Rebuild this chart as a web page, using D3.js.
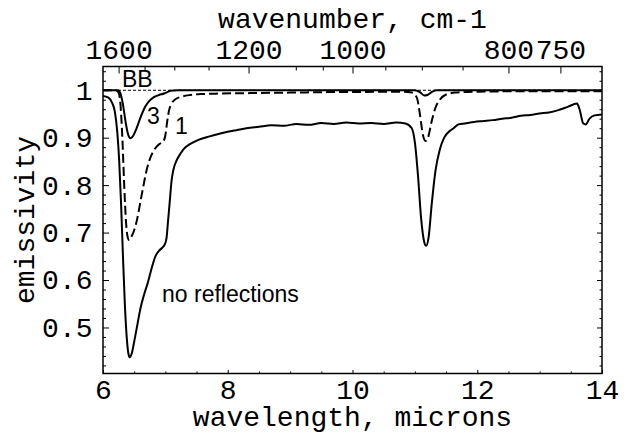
<!DOCTYPE html>
<html>
<head>
<meta charset="utf-8">
<script src="https://cdn.jsdelivr.net/npm/d3@7"></script>
<style>
  body { margin: 0; background: white; }
  .tick text { font-family: "Liberation Mono", monospace; font-size: 28px; fill: black; }
  .title { font-family: "Liberation Mono", monospace; font-size: 28px; fill: black; }
  .note { font-family: "Liberation Sans", Arial, sans-serif; font-size: 23px; fill: black; }
</style>
</head>
<body>
<svg id="chart" width="628" height="434"></svg>
<script>
// emissivity (wavelength in microns)
var noReflLambda = [6.00, 6.08, 6.14, 6.19, 6.23, 6.26, 6.29, 6.32, 6.35, 6.38, 6.41, 6.43, 6.46, 6.50, 6.55, 6.60, 6.66, 6.72, 6.78, 6.84, 6.90, 6.95, 6.99, 7.02, 7.04, 7.07, 7.10, 7.13, 7.18, 7.24, 7.30, 7.40, 7.52, 7.66, 7.80, 7.95, 8.10, 8.30, 8.50, 8.70, 8.90, 9.10, 9.30, 9.50, 9.70, 9.90, 10.10, 10.30, 10.50, 10.70, 10.85, 10.95, 11.00, 11.05, 11.10, 11.15, 11.18, 11.22, 11.27, 11.33, 11.40, 11.47, 11.55, 11.62, 11.70, 11.80, 11.95, 12.10, 12.25, 12.40, 12.55, 12.70, 12.85, 13.00, 13.15, 13.30, 13.45, 13.60, 13.64, 13.70, 13.74, 13.80, 13.88, 14.00]
var noReflValues = [0.988, 0.985, 0.975, 0.955, 0.91, 0.85, 0.76, 0.65, 0.55, 0.48, 0.443, 0.437, 0.445, 0.47, 0.505, 0.54, 0.57, 0.595, 0.625, 0.65, 0.662, 0.668, 0.675, 0.69, 0.72, 0.765, 0.81, 0.833, 0.852, 0.866, 0.877, 0.887, 0.895, 0.901, 0.906, 0.911, 0.915, 0.92, 0.923, 0.926, 0.925, 0.929, 0.927, 0.931, 0.929, 0.932, 0.93, 0.931, 0.929, 0.932, 0.93, 0.92, 0.89, 0.82, 0.73, 0.68, 0.672, 0.69, 0.76, 0.83, 0.875, 0.9, 0.913, 0.92, 0.928, 0.93, 0.933, 0.935, 0.937, 0.94, 0.942, 0.946, 0.948, 0.951, 0.953, 0.958, 0.965, 0.972, 0.96, 0.93, 0.928, 0.94, 0.947, 0.949]

var oneReflLambda = [6.00, 6.20, 6.25, 6.28, 6.31, 6.34, 6.37, 6.40, 6.42, 6.45, 6.50, 6.55, 6.60, 6.65, 6.70, 6.76, 6.83, 6.90, 6.97, 7.00, 7.03, 7.06, 7.10, 7.16, 7.25, 7.40, 7.60, 7.90, 8.40, 9.00, 9.60, 10.20, 10.80, 10.95, 11.03, 11.08, 11.13, 11.17, 11.21, 11.27, 11.33, 11.40, 11.50, 11.65, 12.00, 13.00, 14.00]
var oneReflValues = [1.0, 1.0, 0.995, 0.97, 0.90, 0.80, 0.72, 0.688, 0.684, 0.69, 0.705, 0.73, 0.765, 0.80, 0.832, 0.858, 0.876, 0.886, 0.893, 0.905, 0.935, 0.958, 0.972, 0.981, 0.986, 0.99, 0.992, 0.993, 0.994, 0.995, 0.996, 0.9965, 0.997, 0.995, 0.985, 0.95, 0.905, 0.893, 0.9, 0.935, 0.963, 0.98, 0.991, 0.995, 0.997, 0.998, 0.998]

var threeReflLambda = [6.00, 6.24, 6.28, 6.32, 6.36, 6.40, 6.44, 6.48, 6.53, 6.58, 6.63, 6.68, 6.74, 6.81, 6.90, 6.98, 7.03, 7.08, 7.20, 11.00, 11.08, 11.15, 11.20, 11.28, 11.35, 14.00]
var threeReflValues = [1.0, 1.0, 0.993, 0.97, 0.935, 0.908, 0.899, 0.903, 0.917, 0.935, 0.952, 0.966, 0.977, 0.985, 0.99, 0.993, 0.996, 0.999, 1.0, 1.0, 0.996, 0.989, 0.99, 0.997, 1.0, 1.0]

var bbLambda = [6, 14]
var bbValues = [1, 1]

// axis ticks
var xTicks = [6, 8, 10, 12, 14]
var xMinorTicks = [6.5, 7, 7.5, 8.5, 9, 9.5, 10.5, 11, 11.5, 12.5, 13, 13.5]
var yTicks = [0.5, 0.6, 0.7, 0.8, 0.9, 1]
var yMinorTicks = [0.42, 0.44, 0.46, 0.48, 0.52, 0.54, 0.56, 0.58, 0.62, 0.64, 0.66, 0.68, 0.72, 0.74, 0.76, 0.78, 0.82, 0.84, 0.86, 0.88, 0.92, 0.94, 0.96, 0.98, 1.02, 1.04]
var waveTicks = [1600, 1200, 1000, 800, 750]
var waveMinorTicks = [1500, 1400, 1300, 1100, 1050, 950, 900, 850]

var dimensions = {
  width: 628,
  height: 434,
  margin: {
    top: 66.5,
    bottom: 60.5,
    right: 26,
    left: 103
  }
}

var svg = d3.select("#chart")

var x = d3.scaleLinear()
  .domain([6, 14])
  .range([dimensions.margin.left, dimensions.width - dimensions.margin.right])

var y = d3.scaleLinear()
  .domain([0.403, 1.05])
  .range([dimensions.height - dimensions.margin.bottom, dimensions.margin.top])

var bottom = dimensions.height - dimensions.margin.bottom
var right = dimensions.width - dimensions.margin.right

// ----- axes (ticks point inside) -----
svg.append("g")
  .attr("transform", "translate(0," + bottom + ")")
  .call(d3.axisBottom(x).tickValues(xTicks).tickSize(-3.5).tickPadding(5.5).tickFormat(d3.format("d")))
svg.append("g")
  .attr("transform", "translate(0," + bottom + ")")
  .call(d3.axisBottom(x).tickValues(xMinorTicks).tickSize(-2).tickFormat(""))

svg.append("g")
  .attr("transform", "translate(" + dimensions.margin.left + ",0)")
  .call(d3.axisLeft(y).tickValues(yTicks).tickSize(-6).tickPadding(10.5).tickFormat(d => d == 1 ? "1" : d3.format(".1f")(d)))
svg.append("g")
  .attr("transform", "translate(" + dimensions.margin.left + ",0)")
  .call(d3.axisLeft(y).tickValues(yMinorTicks).tickSize(-3).tickFormat(""))

svg.append("g")
  .attr("transform", "translate(" + right + ",0)")
  .call(d3.axisRight(y).tickValues(yTicks).tickSize(-5).tickFormat(""))
svg.append("g")
  .attr("transform", "translate(" + right + ",0)")
  .call(d3.axisRight(y).tickValues(yMinorTicks).tickSize(-2.5).tickFormat(""))

// top axis is wavenumber = 10000 / wavelength
svg.append("g")
  .attr("transform", "translate(0," + dimensions.margin.top + ")")
  .call(d3.axisTop(x).tickValues(waveTicks.map(w => 10000 / w)).tickSize(-7).tickPadding(7.2)
    .tickFormat((d, i) => waveTicks[i]))
svg.append("g")
  .attr("transform", "translate(0," + dimensions.margin.top + ")")
  .call(d3.axisTop(x).tickValues(waveMinorTicks.map(w => 10000 / w)).tickSize(-4).tickFormat(""))

svg.selectAll(".domain").remove()
svg.selectAll(".tick line").attr("stroke", "black").attr("stroke-width", 1)

// frame
svg.append("rect")
  .attr("x", dimensions.margin.left)
  .attr("y", dimensions.margin.top)
  .attr("width", right - dimensions.margin.left)
  .attr("height", bottom - dimensions.margin.top)
  .attr("fill", "none")
  .attr("stroke", "black")
  .attr("stroke-width", 1.5)

// titles
svg.append("text").attr("class", "title")
  .attr("x", (dimensions.margin.left + right) / 2)
  .attr("y", 28)
  .attr("text-anchor", "middle")
  .text("wavenumber, cm-1")

svg.append("text").attr("class", "title")
  .attr("x", (dimensions.margin.left + right) / 2)
  .attr("y", 426)
  .attr("text-anchor", "middle")
  .text("wavelength, microns")

svg.append("text").attr("class", "title")
  .attr("transform", "translate(34," + (dimensions.margin.top + bottom) / 2 + ") rotate(-90)")
  .attr("text-anchor", "middle")
  .text("emissivity")

// ----- curves -----
var line = d3.line()
  .x(d => x(d[0]))
  .y(d => y(d[1]))
  .curve(d3.curveMonotoneX)

function pairs(xs, ys) {
  return xs.map((v, i) => [v, ys[i]])
}

// blackbody reference, fine dashes
svg.append("path")
  .datum(pairs(bbLambda, bbValues))
  .attr("d", line)
  .attr("fill", "none")
  .attr("stroke", "black")
  .attr("stroke-width", 1.2)
  .attr("stroke-dasharray", "3,2")

svg.append("path")
  .datum(pairs(oneReflLambda, oneReflValues))
  .attr("d", line)
  .attr("fill", "none")
  .attr("stroke", "black")
  .attr("stroke-width", 2)
  .attr("stroke-dasharray", "9,4")

svg.append("path")
  .datum(pairs(threeReflLambda, threeReflValues))
  .attr("d", line)
  .attr("fill", "none")
  .attr("stroke", "black")
  .attr("stroke-width", 2)

svg.append("path")
  .datum(pairs(noReflLambda, noReflValues))
  .attr("d", line)
  .attr("fill", "none")
  .attr("stroke", "black")
  .attr("stroke-width", 2)

// curve labels
svg.append("text").attr("class", "note").attr("x", 122).attr("y", 87).text("BB")
svg.append("text").attr("class", "note").attr("x", 147).attr("y", 124).text("3")
svg.append("text").attr("class", "note").attr("x", 175).attr("y", 134).text("1")
svg.append("text").attr("class", "note").attr("x", 162).attr("y", 302).text("no reflections")
</script>
</body>
</html>
